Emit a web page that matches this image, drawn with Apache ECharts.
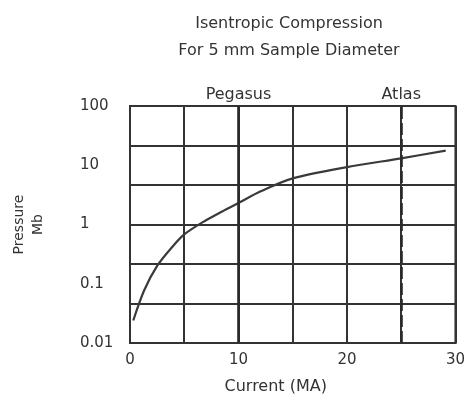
<!DOCTYPE html>
<html>
<head>
<meta charset="utf-8">
<script src="https://cdn.jsdelivr.net/npm/echarts@6/dist/echarts.min.js"></script>
<style>
html,body{margin:0;padding:0;background:#fff;}
#chart{width:468px;height:402px;}
</style>
</head>
<body>
<div id="chart"></div>
<script>
// Data
var currentMA = [0.3, 1.3, 2.5, 3.8, 5, 6.8, 8.5, 10, 12, 15, 20, 25, 29.1];
var pressureMb = [0.024, 0.077, 0.2, 0.4, 0.68, 1.12, 1.66, 2.3, 3.6, 6.0, 9.3, 13.1, 17.6];
var xTickLabels = [0, 10, 20, 30];
var yTickLabels = [0.01, 0.1, 1, 10, 100];
var machineNames = ['Pegasus', 'Atlas'];
var machineCurrents = [10, 25];
var titleLines = ['Isentropic Compression', 'For 5 mm Sample Diameter'];

var FONT = 'DejaVu Sans';
var INK = '#333';

var chart = echarts.init(document.getElementById('chart'), null, {renderer: 'canvas'});

var seriesData = currentMA.map(function (x, i) { return [x, pressureMb[i]]; });

var markData = machineNames.map(function (n, i) {
  return {
    xAxis: machineCurrents[i],
    label: {formatter: n},
    lineStyle: i === 1 ? {type: [12, 4]} : {type: 'solid'}
  };
});

chart.setOption({
  backgroundColor: '#fff',
  animation: false,
  textStyle: {fontFamily: FONT, color: INK},
  title: {
    text: titleLines.join('\n'),
    left: 289,
    top: 10,
    padding: 0,
    textAlign: 'center',
    textStyle: {fontFamily: FONT, fontSize: 16, fontWeight: 'normal', color: INK, lineHeight: 27}
  },
  grid: {
    left: 130, right: 8, top: 106, bottom: 59,
    show: true, borderColor: INK, borderWidth: 2, backgroundColor: 'transparent'
  },
  xAxis: {
    type: 'value', min: 0, max: 30, interval: 5,
    name: 'Current (MA)', nameLocation: 'middle', nameGap: 36,
    nameTextStyle: {fontFamily: FONT, fontSize: 16, color: INK, padding: [0, 34, 0, 0]},
    axisLine: {show: true, lineStyle: {color: INK, width: 2}},
    axisTick: {show: false},
    axisLabel: {
      margin: 10, fontFamily: FONT, fontSize: 15, color: INK,
      formatter: function (v) { return xTickLabels.indexOf(v) >= 0 ? String(v) : ''; }
    },
    splitLine: {show: true, lineStyle: {color: INK, width: 2}}
  },
  yAxis: [{
    type: 'log', logBase: 10, min: 0.01, max: 100,
    name: 'Pressure\nMb', nameLocation: 'middle', nameRotate: 90, nameGap: 82,
    nameTextStyle: {fontFamily: FONT, fontSize: 14, color: INK, lineHeight: 19},
    axisLine: {show: true, lineStyle: {color: INK, width: 2}},
    axisTick: {show: false},
    axisLabel: {
      margin: 50, align: 'left', fontFamily: FONT, fontSize: 15, color: INK,
      formatter: function (v) {
        for (var i = 0; i < yTickLabels.length; i++) {
          if (Math.abs(v - yTickLabels[i]) / yTickLabels[i] < 1e-6) return String(yTickLabels[i]);
        }
        return '';
      }
    },
    splitLine: {show: false}
  }, {
    type: 'value', min: 0, max: 6, interval: 1, position: 'left',
    axisLine: {show: false}, axisTick: {show: false}, axisLabel: {show: false},
    splitLine: {show: true, lineStyle: {color: INK, width: 2}}
  }],
  series: [{
    type: 'line',
    yAxisIndex: 0,
    data: seriesData,
    smooth: 0.3,
    showSymbol: false,
    symbol: 'none',
    lineStyle: {color: '#3a3a3a', width: 2.2},
    markLine: {
      silent: true,
      symbol: ['none', 'none'],
      lineStyle: {color: '#2a2a2a', width: 2.6},
      label: {position: 'end', distance: 3, fontFamily: FONT, fontSize: 16, color: INK},
      data: markData
    }
  }]
});
</script>
</body>
</html>
